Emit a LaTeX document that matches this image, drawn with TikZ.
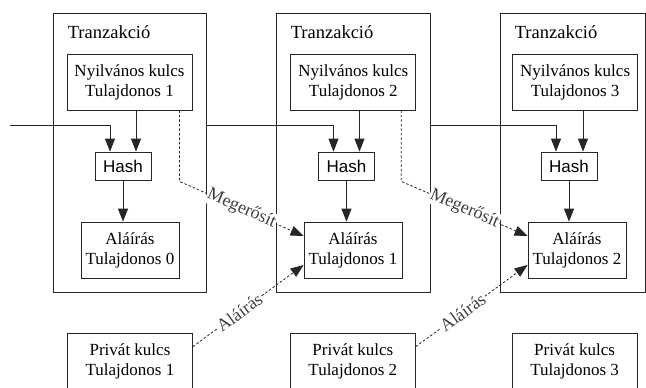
\documentclass[tikz,border=0pt]{standalone}
\usepackage{fontspec}
\setmainfont{Liberation Serif}
\newfontfamily\hashfont{Liberation Sans}
\usetikzlibrary{positioning,arrows.meta}
\tikzset{node distance=40pt, x=1pt, y=-1pt,
  frame/.style={draw=black!85, line width=0.8pt, inner sep=0pt, minimum height=279pt},
  keybox/.style={draw=black!85, line width=0.8pt, inner sep=0pt, minimum width=125pt, minimum height=56pt, align=center, font=\fontsize{17}{20}\selectfont},
  sigbox/.style={keybox, minimum width=98pt},
  hashbox/.style={draw=black!85, line width=0.8pt, inner sep=0pt, minimum width=56pt, minimum height=28pt, font=\hashfont\fontsize{17}{20}\selectfont},
  title/.style={anchor=west, inner sep=0pt, font=\fontsize{18.5}{22}\selectfont},
  arr/.style={draw=black!85, line width=0.8pt, -{Triangle[length=13pt,width=10pt]}},
  dotarrow/.style={arr, dash pattern=on 2.5pt off 2pt},
  lbl/.style={sloped, fill=white, inner sep=1pt, text=black!75, font=\fontsize{18}{20}\selectfont}
}
\begin{document}
\begin{tikzpicture}
\useasboundingbox (0,0) rectangle (646,388);
% transaction frames
\node (t1) [frame, minimum width=153pt] at (129.5,152.5) {};
\node (t2) [frame, minimum width=154pt] at (353,152.5) {};
\node (t3) [frame, minimum width=145pt] at (572.5,152.5) {};
\node (tt1) [title] at ([xshift=15pt,yshift=-20pt]t1.north west) {Tranzakció};
\node (tt2) [title] at ([xshift=15pt,yshift=-20pt]t2.north west) {Tranzakció};
\node (tt3) [title] at ([xshift=15pt,yshift=-20pt]t3.north west) {Tranzakció};
% public keys
\node (n1) [keybox] at (129.5,82) {Nyilvános kulcs\\Tulajdonos 1};
\node (n2) [keybox, right=98pt of n1] {Nyilvános kulcs\\Tulajdonos 2};
\node (n3) [keybox, right=96pt of n2] {Nyilvános kulcs\\Tulajdonos 3};
% hashes
\node (h1) [hashbox] at (123,166) {Hash};
\node (h2) [hashbox] at (346.5,166) {Hash};
\node (h3) [hashbox] at (569,166) {Hash};
% signatures
\node (a1) [sigbox] at (130,250) {Aláírás\\Tulajdonos 0};
\node (a2) [sigbox] at (353,250) {Aláírás\\Tulajdonos 1};
\node (a3) [sigbox] at (577,250) {Aláírás\\Tulajdonos 2};
% private keys
\node (p1) [keybox] at (130,361) {Privát kulcs\\Tulajdonos 1};
\node (p2) [keybox, right=97pt of p1] {Privát kulcs\\Tulajdonos 2};
\node (p3) [keybox, right=96pt of p2] {Privát kulcs\\Tulajdonos 3};
\coordinate (in0) at (10,125);
% chain
\draw[arr] (in0) -| ([xshift=-13pt]h1.north);
\draw[arr] (t1.east |- in0) -| ([xshift=-13pt]h2.north);
\draw[arr] (t2.east |- in0) -| ([xshift=-13pt]h3.north);
\draw[arr] ([xshift=13pt]h1.north |- n1.south) -- ([xshift=13pt]h1.north);
\draw[arr] ([xshift=13pt]h2.north |- n2.south) -- ([xshift=13pt]h2.north);
\draw[arr] ([xshift=14pt]h3.north |- n3.south) -- ([xshift=14pt]h3.north);
\draw[arr] (h1) -- (h1.south |- a1.north);
\draw[arr] (h2) -- (h2.south |- a2.north);
\draw[arr] (h3) -- (h3.south |- a3.north);
% verify and sign
\draw[dotarrow] ([xshift=-13pt]n1.south east) -- ++(0,71) -- node[lbl, pos=0.5] {Megerősít} ([yshift=14pt]a2.west);
\draw[dotarrow] ([xshift=-15pt]n2.south east) -- ++(0,71) -- node[lbl, pos=0.5] {Megerősít} ([yshift=14pt]a3.west);
\draw[dotarrow] ([yshift=-14pt]p1.north east) -- node[lbl, pos=0.42] {Aláírás} ([yshift=-15pt]a2.west);
\draw[dotarrow] ([yshift=-14pt]p2.north east) -- node[lbl, pos=0.42] {Aláírás} ([yshift=-15pt]a3.west);
\end{tikzpicture}
\end{document}
